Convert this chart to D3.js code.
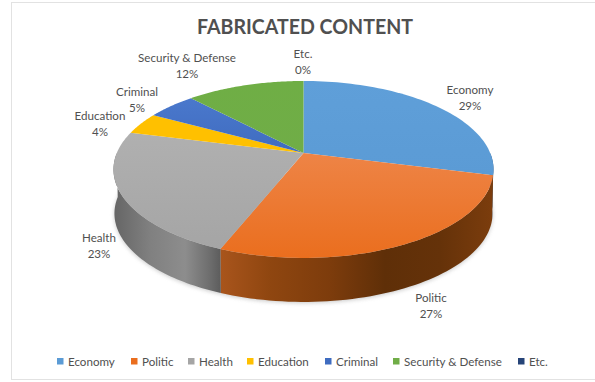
<!DOCTYPE html>
<html>
<head>
<meta charset="utf-8">
<script src="https://cdn.jsdelivr.net/npm/d3@7"></script>
<style>
html,body{margin:0;padding:0;background:#fff}
svg{display:block}
text{font-family:Lato,"Open Sans",sans-serif;fill:#505050}
</style>
</head>
<body>
<svg id="chart" width="595" height="382"></svg>
<script>
// Share of fabricated content by topic
const categories = ["Economy","Politic","Health","Education","Criminal","Security & Defense","Etc."];
const shares = [29,27,23,4,5,12,0];
const topColors = ["#5b9bd5","#ea6e1e","#a5a5a5","#ffc000","#3f6cc0","#70ad47","#264478"];
const topLight = ["#5f9fd9","#ee8446","#b0b0b0","#ffc000","#4a78cc","#6fae45","#264478"];
const labelCenters = [[470,90],[431,298],[99,238],[100,116],[137,92],[187,58],[303,54]];
const legendMarks = [57,131,188,247,325,393,518];

const svg = d3.select("#chart");
const defs = svg.append("defs");

// Tilted disc: a circle seen in perspective, so the hub sits above the outline's centre
const hub = {x:303.5, y:153}, radiusX = 186.7, radiusY = 85.4, tilt = 0.186, depth = 44;
function project(angle, r = 1, drop = 0, shrink = 1) {
  const u = Math.sin(angle) * r, v = -Math.cos(angle) * r, w = 1 - tilt * v;
  return [hub.x + shrink * radiusX * u / w, hub.y + radiusY * v / w + drop];
}
const arcs = d3.pie().sort(null).value(d => d)(shares);
const line = d3.line();
const sweep = (a0, a1, drop = 0, shrink = 1) =>
  d3.range(0, 61).map(i => project(a0 + (a1 - a0) * i / 60, 1, drop, shrink));

// Frame
svg.append("rect").attr("x",11.5).attr("y",2.5).attr("width",590).attr("height",377)
  .attr("fill","#fff").attr("stroke","#e2e2e2");

// Soft shadow below the disc
defs.append("filter").attr("id","soft").attr("x","-10%").attr("y","-10%").attr("width","120%").attr("height","130%")
  .append("feGaussianBlur").attr("stdDeviation",2.2);
svg.append("path")
  .attr("d", line(sweep(Math.PI*0.5, Math.PI*1.62, depth+1, 0.995)) + "Z")
  .attr("fill","#9a9a9a").attr("opacity",0.55).attr("filter","url(#soft)");

// Wall shading runs horizontally across the visible rim
function wallGradient(id, stops) {
  const g = defs.append("linearGradient").attr("id",id)
    .attr("gradientUnits","userSpaceOnUse")
    .attr("x1",stops[0][0]).attr("x2",stops[stops.length-1][0]).attr("y1",0).attr("y2",0);
  const x0 = stops[0][0], x1 = stops[stops.length-1][0];
  stops.forEach(s => g.append("stop").attr("offset",(s[0]-x0)/(x1-x0)).attr("stop-color",s[1]));
}
wallGradient("wallOrange",[[220,"#a9551c"],[270,"#8f4610"],[330,"#7d3c0c"],[385,"#5f2f08"],[440,"#653209"],[494,"#7c3d0d"]]);
wallGradient("wallGray",[[115,"#666666"],[150,"#808080"],[185,"#8d8d8d"],[210,"#6d6d6d"],[221,"#5c5c5c"]]);
wallGradient("wallBlue",[[480,"#2f5f8c"],[494,"#2a5580"]]);

const wallFill = ["url(#wallBlue)","url(#wallOrange)","url(#wallGray)"];
[0,1,2].forEach(i => {
  // The rim is visible only from the right silhouette round to the left one
  const a0 = Math.max(arcs[i].startAngle, Math.PI*0.5);
  const a1 = Math.min(arcs[i].endAngle, Math.PI*1.5);
  const upper = sweep(a0,a1);
  const lower = sweep(a0,a1,depth,0.995).reverse();
  svg.append("path").attr("d",line(upper.concat(lower))+"Z").attr("fill",wallFill[i]);
});

// Top face, one wedge per category
arcs.forEach((a,i) => {
  if (a.value === 0) return;
  const gid = "face"+i;
  const g = defs.append("linearGradient").attr("id",gid).attr("x1",0).attr("x2",0).attr("y1",0).attr("y2",1);
  g.append("stop").attr("offset",0).attr("stop-color",topLight[i]);
  g.append("stop").attr("offset",1).attr("stop-color",topColors[i]);
  svg.append("path")
    .attr("d", line([[hub.x,hub.y]].concat(sweep(a.startAngle,a.endAngle))) + "Z")
    .attr("fill",`url(#${gid})`);
});

// Title
svg.append("text").attr("x",305).attr("y",34).attr("text-anchor","middle")
  .attr("font-size",20).attr("font-weight",700).attr("textLength",216).attr("lengthAdjust","spacingAndGlyphs")
  .text("FABRICATED CONTENT");

// Data labels
categories.forEach((c,i) => {
  const [x,y] = labelCenters[i];
  const t = svg.append("text").attr("text-anchor","middle").attr("font-size",11.6);
  t.append("tspan").attr("x",x).attr("y",y+4).text(c);
  t.append("tspan").attr("x",x).attr("y",y+20).text(shares[i]+"%");
});

// Legend
categories.forEach((c,i) => {
  svg.append("rect").attr("x",legendMarks[i]).attr("y",358).attr("width",6.5).attr("height",6.5).attr("fill",topColors[i]);
  svg.append("text").attr("x",legendMarks[i]+11).attr("y",365.5).attr("font-size",11.6).text(c);
});
</script>
</body>
</html>
